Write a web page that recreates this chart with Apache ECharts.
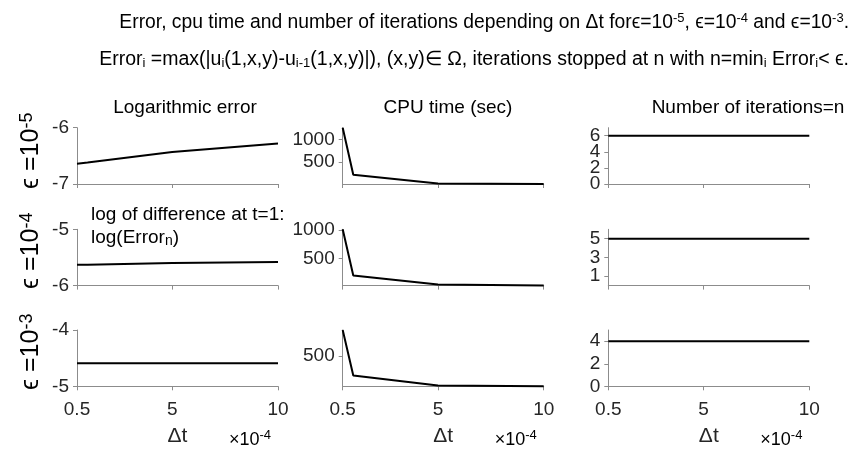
<!DOCTYPE html>
<html>
<head>
<meta charset="utf-8">
<script src="https://cdn.jsdelivr.net/npm/echarts@6/dist/echarts.min.js"></script>
<style>
html,body{margin:0;padding:0;background:#fff;}
#chart{width:851px;height:453px;}
</style>
</head>
<body>
<div id="chart"></div>
<script>
// ---- data ----
const dt = [0.5, 1, 5, 10];               // Δt (×10^-4)
const xTicks = [0.5, 5, 10];

const logErr_e5 = [-6.64, -6.62, -6.43, -6.28];
const logErr_e4 = [-5.63, -5.63, -5.60, -5.58];
const logErr_e3 = [-4.59, -4.59, -4.59, -4.59];

const cpu_e5 = [1266, 216, 20, 10];
const cpu_e4 = [1012, 206, 46, 28];
const cpu_e3 = [911, 191, 31, 20];

const iter_e5 = [6, 6, 6, 6];
const iter_e4 = [5, 5, 5, 5];
const iter_e3 = [4, 4, 4, 4];

const logErrTicks = [[-7, -6], [-6, -5], [-5, -4]];
const cpuTicks = [[500, 1000], [500, 1000], [500]];
const iterTicks = [[0, 2, 4, 6], [1, 3, 5], [0, 2, 4]];
const iterRange = [[0, 7], [0, 6], [0, 5]];

const rowEps = ['-5', '-4', '-3'];

// ---- layout ----
const colLeft = [77, 342.7, 608.3];
const colW = 201;
const rowTop = [127.7, 229.3, 330];
const rowH = 56.3;

const chart = echarts.init(document.getElementById('chart'), null, {renderer: 'canvas'});

const grids = [], xAxes = [], yAxes = [], series = [];
const axisGray = '#8c8c8c';
const labelColor = '#262626';
const FONT = '"Liberation Sans", Arial, sans-serif';

const dataRows = [
  [logErr_e5, cpu_e5, iter_e5],
  [logErr_e4, cpu_e4, iter_e4],
  [logErr_e3, cpu_e3, iter_e3]
];

function rangeOf(arr) { return [Math.min(...arr), Math.max(...arr)]; }

function makeYAxis(gi, ymin, ymax, ticks, showLine) {
  return {
    type: 'value', gridIndex: gi, min: ymin, max: ymax, position: 'left', offset: 0,
    axisLine: {show: showLine, onZero: false, lineStyle: {color: axisGray, width: 1}},
    axisTick: {show: true, length: 4, customValues: ticks, lineStyle: {color: axisGray}},
    axisLabel: {customValues: ticks, margin: 8, fontSize: 19,
      color: labelColor, fontFamily: FONT, hideOverlap: false,
      showMinLabel: true, showMaxLabel: true, formatter: v => String(v)},
    splitLine: {show: false}
  };
}

let gi = 0;
for (let r = 0; r < 3; r++) {
  for (let c = 0; c < 3; c++) {
    const vals = dataRows[r][c];
    grids.push({left: colLeft[c], top: rowTop[r], width: colW, height: rowH});
    xAxes.push({
      type: 'value', gridIndex: gi, min: 0.5, max: 10,
      axisLine: {show: true, onZero: false, lineStyle: {color: axisGray, width: 1}},
      axisTick: {show: true, length: 4, customValues: xTicks, lineStyle: {color: axisGray}},
      axisLabel: {show: r === 2, customValues: xTicks, margin: 14,
        fontSize: 19, color: labelColor, fontFamily: FONT, formatter: v => String(v)},
      splitLine: {show: false}
    });
    let ymin, ymax, yt;
    if (c === 0) { ymin = logErrTicks[r][0]; ymax = logErrTicks[r][1]; yt = logErrTicks[r]; }
    else if (c === 1) { const rg = rangeOf(vals); ymin = rg[0]; ymax = rg[1]; yt = cpuTicks[r]; }
    else { ymin = iterRange[r][0]; ymax = iterRange[r][1]; yt = iterTicks[r]; }

    const mainIdx = yAxes.length;
    if (c === 2) {
      // split tick labels over two coincident axes so none is dropped
      const even = yt.filter((_, i) => i % 2 === 0);
      const odd = yt.filter((_, i) => i % 2 === 1);
      yAxes.push(makeYAxis(gi, ymin, ymax, even, true));
      yAxes.push(makeYAxis(gi, ymin, ymax, odd, false));
    } else {
      yAxes.push(makeYAxis(gi, ymin, ymax, yt, true));
    }
    series.push({
      type: 'line', xAxisIndex: gi, yAxisIndex: mainIdx,
      data: dt.map((x, i) => [x, vals[i]]),
      showSymbol: false, symbol: 'none',
      lineStyle: {color: '#000', width: 2},
      clip: false, animation: false
    });
    gi++;
  }
}

// ---- text ----
const supRich = {
  n: {fontSize: 19.3, lineHeight: 20, verticalAlign: 'bottom', fontFamily: FONT, color: '#000'},
  p: {fontSize: 13, lineHeight: 14, padding: [0, 0, 10, 0], verticalAlign: 'top', fontFamily: FONT, color: '#000'}
};
const subRich = {
  n: {fontSize: 19.5, lineHeight: 20, verticalAlign: 'top', fontFamily: FONT, color: '#000'},
  b: {fontSize: 13, lineHeight: 14, padding: [13, 0, 0, 0], verticalAlign: 'bottom', fontFamily: FONT, color: '#000'}
};

const graphics = [];
graphics.push({
  type: 'text', x: 849, y: 22,
  style: {
    text: '{n|Error, cpu time and number of iterations depending on Δt for}{n|ϵ=10}{p|-5}{n|, ϵ=10}{p|-4}{n| and ϵ=10}{p|-3}{n|.}',
    rich: supRich, align: 'right', verticalAlign: 'middle'
  }
});
graphics.push({
  type: 'text', x: 849, y: 60,
  style: {
    text: '{n|Error}{b|i}{n| =max(|u}{b|i}{n|(1,x,y)-u}{b|i-1}{n|(1,x,y)|), (x,y)∈ Ω, iterations stopped at n with n=min}{b|i}{n| Error}{b|i}{n|< ϵ.}',
    rich: subRich, align: 'right', verticalAlign: 'middle'
  }
});

const colTitles = ['Logarithmic error', 'CPU time (sec)', 'Number of iterations=n'];
const colTitleX = [185, 448, 748];
colTitles.forEach((t, i) => {
  graphics.push({type: 'text', x: colTitleX[i], y: 108,
    style: {text: t, fontSize: 19, fontFamily: FONT, fill: '#000', align: 'center', verticalAlign: 'middle'}});
});

const rowLabelY = [189, 289, 390];
const rowRich = {
  n: {fontSize: 25, lineHeight: 26, verticalAlign: 'bottom', fontFamily: FONT, color: '#000'},
  p: {fontSize: 18, lineHeight: 18, padding: [0, 0, 12, 0], verticalAlign: 'top', fontFamily: FONT, color: '#000'}
};
rowEps.forEach((e, i) => {
  graphics.push({type: 'text', x: 31, y: rowLabelY[i], rotation: Math.PI / 2,
    style: {text: '{n|ϵ =10}{p|' + e + '}', rich: rowRich, align: 'left', verticalAlign: 'middle'}});
});

// Δt labels and ×10^-4
const axRich = {
  n: {fontSize: 18, lineHeight: 20, verticalAlign: 'bottom', fontFamily: FONT, color: labelColor},
  p: {fontSize: 13, lineHeight: 14, padding: [0, 0, 10, 0], verticalAlign: 'top', fontFamily: FONT, color: labelColor}
};
for (let c = 0; c < 3; c++) {
  graphics.push({type: 'text', x: colLeft[c] + colW / 2, y: 436,
    style: {text: 'Δt', fontSize: 21, fontFamily: FONT, fill: labelColor, align: 'center', verticalAlign: 'middle'}});
  graphics.push({type: 'text', x: colLeft[c] + colW - 49, y: 439,
    style: {text: '{n|×10}{p|-4}', rich: axRich, align: 'left', verticalAlign: 'middle'}});
}

// annotation in middle-left panel
graphics.push({type: 'text', x: 91, y: 215,
  style: {text: 'log of difference at t=1:', fontSize: 19, fontFamily: FONT, fill: '#000', align: 'left', verticalAlign: 'middle'}});
const annRich = {
  n: {fontSize: 19, lineHeight: 20, verticalAlign: 'top', fontFamily: FONT, color: '#000'},
  b: {fontSize: 14, lineHeight: 14, padding: [12, 0, 0, 0], verticalAlign: 'bottom', fontFamily: FONT, color: '#000'}
};
graphics.push({type: 'text', x: 91, y: 238,
  style: {text: '{n|log(Error}{b|n}{n|)}', rich: annRich, align: 'left', verticalAlign: 'middle'}});

chart.setOption({
  animation: false,
  backgroundColor: '#fff',
  grid: grids,
  xAxis: xAxes,
  yAxis: yAxes,
  series: series,
  graphic: graphics
});
</script>
</body>
</html>
